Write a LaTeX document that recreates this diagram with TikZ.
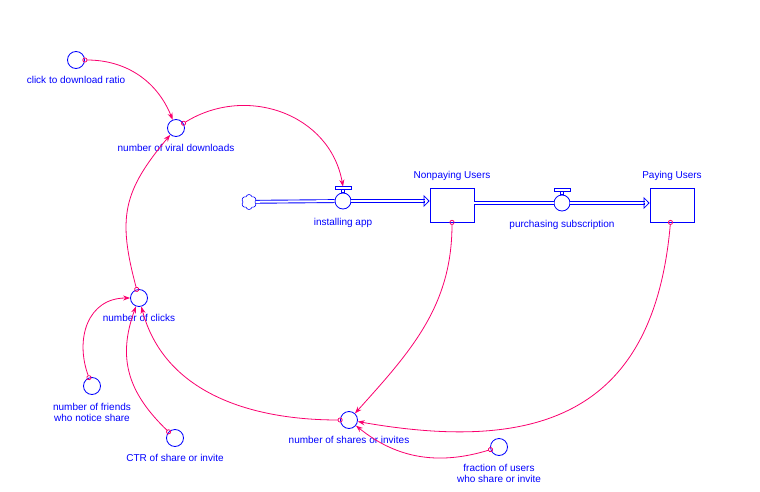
\documentclass[tikz,border=0pt]{standalone}
\usepackage{fontspec}
\setmainfont{Liberation Sans}
\usetikzlibrary{arrows.meta, shapes.symbols}
\definecolor{simblue}{RGB}{0,0,255}
\definecolor{linkpink}{RGB}{250,0,110}
\tikzset{%
  % Specifications for style of nodes:
       aux/.style = {circle, draw=simblue, line width=.8pt,
                     minimum size=17pt, inner sep=0pt},
     valve/.style = {aux, minimum size=16pt},
     stock/.style = {rectangle, draw=simblue, line width=.8pt,
                     minimum width=44pt, minimum height=34pt},
    source/.style = {cloud, cloud puffs=6, cloud puff arc=150, aspect=1,
                     draw=simblue, line width=.6pt,
                     minimum width=15pt, minimum height=15pt, inner sep=0pt},
   lblbase/.style = {text=simblue, inner sep=0pt, align=center,
                     font=\fontsize{10pt}{11.5pt}\selectfont},
       lbl/.style = {lblbase, text height=7pt, text depth=2pt},
  % Specifications for style of connectors:
      link/.style = {draw=linkpink, line width=.8pt, shorten <=-2.5pt,
                     {Circle[open,length=5pt,width=5pt]}-{Stealth[length=7pt,width=5pt]}},
      pipe/.style = {draw=simblue, line width=.9pt, double=white, double distance=2pt},
   pipetip/.style = {draw=simblue, line width=.8pt, -{Triangle[open,length=6pt,width=12pt]}},
}
% handle on top of a valve
\newcommand{\valvetop}[1]{%
  \draw[simblue, line width=.6pt] ([xshift=-1.5pt]#1.north) rectangle ([xshift=1.5pt,yshift=3.5pt]#1.north);
  \draw[simblue, line width=.6pt] ([xshift=-8pt,yshift=3.5pt]#1.north) rectangle ([xshift=8pt,yshift=6pt]#1.north);}

\begin{document}
\begin{tikzpicture}[x=1pt, y=1pt]
  \useasboundingbox (0,0) rectangle (760,-492);

  \node(ratio)    [aux, label={[lbl, label distance=7.5pt]below:click to download ratio}]          at (76,-60)   {};
  \node(viral)    [aux, label={[lbl, label distance=7.5pt]below:number of viral downloads}]        at (176,-128) {};
  \node(clicks)   [aux, label={[lbl, label distance=7.5pt]below:number of clicks}]                 at (139,-298) {};
  \node(friends)  [aux, label={[lblbase, label distance=8pt]below:number of friends\\who notice share}] at (92,-386) {};
  \node(ctr)      [aux, label={[lbl, label distance=7.5pt]below:CTR of share or invite}]           at (175,-438) {};
  \node(shares)   [aux, label={[lbl, label distance=7.5pt]below:number of shares or invites}]      at (349,-420) {};
  \node(fraction) [aux, label={[lblbase, label distance=8pt]below:fraction of users\\who share or invite}] at (499,-447) {};

  \node(source)   [source]                                                                          at (249,-202) {};
  \node(app)      [valve, label={[lbl, label distance=8.5pt]below:installing app}]                 at (343,-201) {};
  \node(nonpay)   [stock, label={[lbl, label distance=6.5pt]above:Nonpaying Users}]                at (452,-205) {};
  \node(buy)      [valve, label={[lbl, label distance=8.5pt]below:purchasing subscription}]        at (562,-203) {};
  \node(paying)   [stock, label={[lbl, label distance=6.5pt]above:Paying Users}]                   at (672,-205) {};

  \valvetop{app}
  \valvetop{buy}

  % flows
  \draw[pipe]           (source) -- (app);
  \draw[pipe]           (app) -- ([xshift=-5pt]app -| nonpay.west);
  \draw[pipetip]        ([xshift=-6pt]app -| nonpay.west) -- (app -| nonpay.west);
  \draw[pipe]           (nonpay.east |- buy) -- (buy);
  \draw[pipe]           (buy) -- ([xshift=-5pt]buy -| paying.west);
  \draw[pipetip]        ([xshift=-6pt]buy -| paying.west) -- (buy -| paying.west);

  % links
  \draw[link]           (ratio) to[out=0, in=112] (viral);
  \draw[link]           (viral) to[out=32, in=100, looseness=1.1] ([yshift=6pt]app.north);
  \draw[link]           (clicks) to[out=105, in=230, looseness=1.2] (viral);
  \draw[link]           (friends) to[out=110, in=180, looseness=1.2] (clicks);
  \draw[link]           (ctr) to[out=136, in=250, looseness=1.1] (clicks);
  \draw[link]           (shares) to[out=180, in=-75] (clicks);
  \draw[link]           (nonpay) to[out=-90, in=48] (shares);
  \draw[link]           (paying) to[out=-95, in=-10, looseness=1.3] (shares);
  \draw[link]           (fraction) to[out=197, in=-39] (shares);
\end{tikzpicture}
\end{document}
